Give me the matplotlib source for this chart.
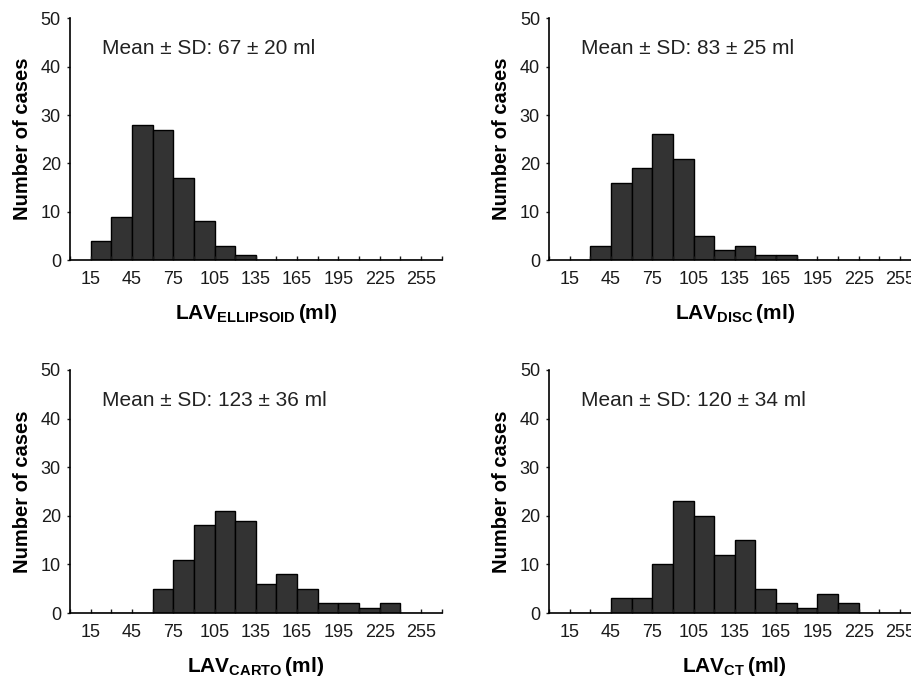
import numpy as np
import matplotlib
matplotlib.use('Agg')
import matplotlib.pyplot as plt

plt.rcParams['font.family'] = ['Liberation Sans', 'DejaVu Sans']
plt.rcParams['mathtext.fontset'] = 'custom'
plt.rcParams['mathtext.rm'] = 'Liberation Sans'
plt.rcParams['mathtext.bf'] = 'Liberation Sans:bold'

# bin edges (ml), width 15
bin_edges = np.arange(15, 255, 15)

# counts per bin, starting at 15 ml
counts_ellipsoid = [4, 9, 28, 27, 17, 8, 3, 1, 0, 0, 0, 0, 0, 0, 0, 0]
counts_disc = [0, 3, 16, 19, 26, 21, 5, 2, 3, 1, 1, 0, 0, 0, 0, 0]
counts_carto = [0, 0, 0, 5, 11, 18, 21, 19, 6, 8, 5, 2, 2, 1, 2, 0]
counts_ct = [0, 0, 3, 3, 10, 23, 20, 12, 15, 5, 2, 1, 4, 2, 0, 0]

labels = ['ELLIPSOID', 'DISC', 'CARTO', 'CT']
stats = ['67 ± 20', '83 ± 25', '123 ± 36', '120 ± 34']
all_counts = [counts_ellipsoid, counts_disc, counts_carto, counts_ct]

major_ticks = np.arange(15, 256, 30)
minor_ticks = np.arange(0, 271, 15)

fig = plt.figure(figsize=(9.11, 6.79), dpi=100)
positions = [
    [0.0768, 0.617, 0.408, 0.356],
    [0.6026, 0.617, 0.408, 0.356],
    [0.0768, 0.0972, 0.408, 0.358],
    [0.6026, 0.0972, 0.408, 0.358],
]

for pos, counts, lab, st in zip(positions, all_counts, labels, stats):
    ax = fig.add_axes(pos)
    ax.bar(bin_edges, counts, width=15, align='edge', color='#333333',
           edgecolor='black', linewidth=1.0)
    ax.set_xlim(0, 270)
    ax.set_ylim(0, 50)
    ax.spines['top'].set_visible(False)
    ax.spines['right'].set_visible(False)
    ax.spines['left'].set_linewidth(1.2)
    ax.spines['bottom'].set_linewidth(1.2)
    ax.set_xticks(major_ticks)
    ax.set_xticks(minor_ticks, minor=True)
    ax.set_yticks(np.arange(0, 51, 10))
    ax.tick_params(axis='x', which='both', direction='in', length=3, width=1,
                   labelsize=13, pad=8, colors='#1a1a1a')
    ax.tick_params(axis='y', direction='out', length=2.5, width=1,
                   labelsize=13, pad=4, colors='#1a1a1a')
    ax.set_ylabel('Number of cases', fontsize=14.5, fontweight='bold',
                  labelpad=6)
    ax.set_xlabel(r'$\mathbf{LAV_{' + lab + r'}}\,$(ml)', fontsize=15,
                  fontweight='bold', labelpad=10)
    ax.text(23, 43.7, 'Mean ± SD: ' + st + ' ml', fontsize=15,
            ha='left', va='center', color='#222222')

fig.savefig('out.png', dpi=100)
